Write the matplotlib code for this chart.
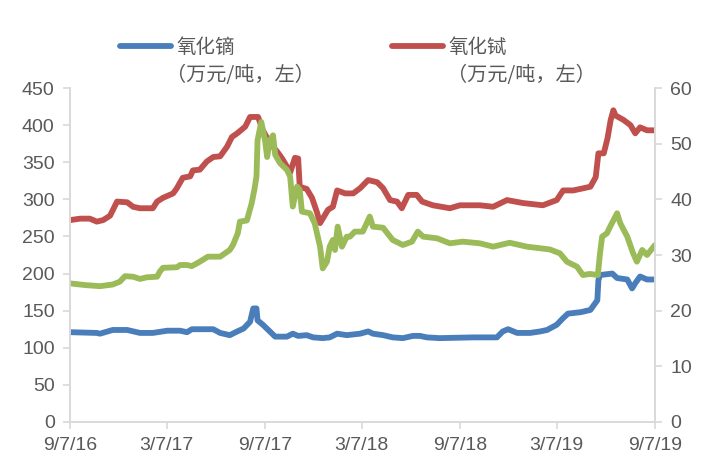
import pandas as pd
import matplotlib
matplotlib.use("Agg")
import matplotlib.pyplot as plt

plt.rcParams['font.family'] = ['Liberation Sans', 'Noto Sans CJK SC', 'DejaVu Sans']

# 氧化镝 price, 万元/吨 (left axis)
dy_dates = ['2016-09-07', '2016-10-27', '2016-11-02', '2016-11-26', '2016-12-23', '2017-01-16',
            '2017-02-09', '2017-03-08', '2017-04-01', '2017-04-14', '2017-04-23', '2017-06-02',
            '2017-06-15', '2017-07-03', '2017-07-17', '2017-07-29', '2017-08-10', '2017-08-16',
            '2017-08-22', '2017-08-24', '2017-09-03', '2017-09-16', '2017-09-26', '2017-10-18',
            '2017-10-29', '2017-11-08', '2017-11-24', '2017-12-06', '2017-12-24', '2018-01-06',
            '2018-01-20', '2018-02-07', '2018-03-04', '2018-03-19', '2018-03-28', '2018-04-16',
            '2018-05-04', '2018-05-23', '2018-06-11', '2018-06-24', '2018-07-07', '2018-07-31',
            '2018-10-01', '2018-11-15', '2018-11-26', '2018-12-06', '2018-12-23', '2019-01-16',
            '2019-02-04', '2019-02-17', '2019-03-07', '2019-03-19', '2019-03-28', '2019-04-21',
            '2019-05-09', '2019-05-22', '2019-05-24', '2019-05-27', '2019-06-19', '2019-06-28',
            '2019-07-17', '2019-07-26', '2019-08-01', '2019-08-10', '2019-08-23', '2019-09-07']
dy_values = [121, 120, 119, 124, 124, 120,
             120, 123, 123, 121, 125, 125,
             120, 117, 122, 126, 135, 153,
             153, 137, 131, 122, 115, 115,
             119, 116, 117, 114, 113, 114,
             119, 117, 119, 122, 119, 117,
             114, 113, 116, 116, 114, 113,
             114, 114, 122, 125, 120, 120,
             122, 124, 131, 140, 146, 148,
             151, 164, 191, 198, 200, 194,
             192, 180, 187, 196, 192, 192]

# 氧化铽 price, 万元/吨 (left axis)
tb_dates = ['2016-09-07', '2016-09-26', '2016-10-14', '2016-10-27', '2016-11-08', '2016-11-21',
            '2016-12-04', '2016-12-23', '2017-01-03', '2017-01-16', '2017-02-09', '2017-02-17',
            '2017-02-28', '2017-03-19', '2017-03-26', '2017-04-06', '2017-04-20', '2017-04-25',
            '2017-05-08', '2017-05-21', '2017-06-02', '2017-06-15', '2017-06-28', '2017-07-07',
            '2017-07-17', '2017-08-01', '2017-08-10', '2017-08-25', '2017-09-03', '2017-09-16',
            '2017-09-30', '2017-10-09', '2017-10-18', '2017-10-24', '2017-11-02', '2017-11-08',
            '2017-11-11', '2017-11-24', '2017-12-04', '2017-12-13', '2017-12-19', '2018-01-03',
            '2018-01-12', '2018-01-20', '2018-02-04', '2018-02-19', '2018-03-04', '2018-03-19',
            '2018-04-05', '2018-04-16', '2018-04-29', '2018-05-12', '2018-05-21', '2018-06-02',
            '2018-06-18', '2018-06-28', '2018-07-18', '2018-08-19', '2018-09-07', '2018-10-14',
            '2018-11-08', '2018-12-04', '2019-01-03', '2019-02-09', '2019-03-07', '2019-03-19',
            '2019-04-07', '2019-05-09', '2019-05-19', '2019-05-24', '2019-06-03', '2019-06-10',
            '2019-06-16', '2019-06-21', '2019-06-25', '2019-07-10', '2019-07-23', '2019-08-01',
            '2019-08-10', '2019-08-23', '2019-09-07']
tb_values = [272, 274, 274, 270, 272, 278,
             297, 296, 290, 288, 288, 297,
             302, 308, 315, 329, 331, 339,
             340, 351, 357, 358, 371, 384,
             389, 398, 411, 411, 393, 376,
             364, 355, 344, 336, 356, 355,
             317, 314, 302, 283, 268, 286,
             290, 312, 308, 308, 315, 326,
             323, 315, 299, 297, 288, 306,
             306, 297, 292, 288, 292, 292,
             290, 299, 295, 292, 299, 312,
             312, 317, 330, 362, 362, 382,
             407, 420, 413, 407, 400, 389,
             397, 393, 393]

# third series, right axis
g_dates = ['2016-09-07', '2016-10-05', '2016-11-02', '2016-11-26', '2016-12-09', '2016-12-19',
           '2017-01-03', '2017-01-16', '2017-01-29', '2017-02-17', '2017-02-22', '2017-02-28',
           '2017-03-26', '2017-04-01', '2017-04-14', '2017-04-23', '2017-05-08', '2017-05-23',
           '2017-06-15', '2017-07-03', '2017-07-09', '2017-07-18', '2017-07-22', '2017-08-04',
           '2017-08-13', '2017-08-18', '2017-08-22', '2017-08-24', '2017-08-31', '2017-09-07',
           '2017-09-11', '2017-09-16', '2017-09-22', '2017-09-26', '2017-10-05', '2017-10-18',
           '2017-10-24', '2017-10-29', '2017-11-06', '2017-11-11', '2017-11-15', '2017-11-30',
           '2017-12-09', '2017-12-19', '2017-12-24', '2018-01-01', '2018-01-06', '2018-01-12',
           '2018-01-16', '2018-01-21', '2018-01-29', '2018-02-07', '2018-02-13', '2018-02-22',
           '2018-03-09', '2018-03-22', '2018-03-28', '2018-04-16', '2018-05-04', '2018-05-23',
           '2018-06-09', '2018-06-20', '2018-06-30', '2018-07-26', '2018-08-19', '2018-09-12',
           '2018-10-14', '2018-11-08', '2018-12-09', '2019-01-10', '2019-02-22', '2019-03-13',
           '2019-03-26', '2019-04-14', '2019-04-25', '2019-05-08', '2019-05-23', '2019-05-27',
           '2019-05-31', '2019-06-09', '2019-06-15', '2019-06-28', '2019-07-04', '2019-07-17',
           '2019-07-28', '2019-08-04', '2019-08-14', '2019-08-23', '2019-09-07']
g_values = [24.9, 24.6, 24.4, 24.7, 25.2, 26.2,
            26.1, 25.7, 26.0, 26.1, 27.0, 27.7,
            27.8, 28.2, 28.2, 28.0, 28.8, 29.7,
            29.7, 30.9, 31.8, 33.9, 36.0, 36.2,
            39.3, 41.7, 44.1, 50.6, 53.9, 50.6,
            47.6, 50.6, 51.5, 48.0, 46.5, 45.3,
            44.1, 38.7, 42.3, 41.7, 37.8, 37.5,
            35.7, 31.5, 27.6, 28.8, 31.5, 32.7,
            30.9, 35.1, 31.5, 33.3, 33.3, 34.2,
            34.2, 36.9, 35.1, 34.9, 32.7, 31.8,
            32.4, 34.2, 33.3, 33.0, 32.1, 32.4,
            32.1, 31.5, 32.2, 31.5, 31.0, 30.3,
            28.8, 27.9, 26.4, 26.6, 26.4, 30.3,
            33.3, 33.9, 35.1, 37.5, 35.7, 33.3,
            30.3, 28.8, 30.9, 30.0, 31.8]

tick_dates = ['2016-09-07', '2017-03-07', '2017-09-07', '2018-03-07',
              '2018-09-07', '2019-03-07', '2019-09-07']
tick_labels = ['9/7/16', '3/7/17', '9/7/17', '3/7/18', '9/7/18', '3/7/19', '9/7/19']
names = ['氧化镝', '氧化铽']
unit_text = '（万元/吨，左）'

BLUE = '#4a7ebb'
RED = '#c0504d'
GREEN = '#9bbb59'
GRAY = '#595959'
AXIS = '#d9d9d9'

fig = plt.figure(figsize=(7.13, 4.75), dpi=100)
ax = fig.add_axes([0.0982, 0.1116, 0.8205, 0.7031])
ax2 = ax.twinx()

lw = 4.2
l_dy, = ax.plot(pd.to_datetime(dy_dates), dy_values, color=BLUE, lw=lw, solid_capstyle='round')
l_tb, = ax.plot(pd.to_datetime(tb_dates), tb_values, color=RED, lw=lw, solid_capstyle='round')
ax2.plot(pd.to_datetime(g_dates), g_values, color=GREEN, lw=lw, solid_capstyle='round')

ax.set_xlim(pd.Timestamp(tick_dates[0]), pd.Timestamp(tick_dates[-1]))
ax.set_ylim(0, 450)
ax2.set_ylim(0, 60)
ax.set_yticks(range(0, 451, 50))
ax2.set_yticks(range(0, 61, 10))
ax.set_xticks(pd.to_datetime(tick_dates))
ax.set_xticklabels(tick_labels)

for a in (ax, ax2):
    a.spines['top'].set_visible(False)
    for side in ('left', 'right', 'bottom'):
        a.spines[side].set_color(AXIS)
        a.spines[side].set_linewidth(1.2)
    a.tick_params(colors=AXIS, labelcolor=GRAY, labelsize=14, length=5, width=1.2, pad=6)

leg = fig.legend([l_dy, l_tb], names, ncol=2, loc='upper left',
                 bbox_to_anchor=(120 / 713, 1 - 37 / 475), frameon=False,
                 prop={'family': ['Noto Sans CJK SC'], 'size': 14},
                 handlelength=2.6, handletextpad=0.3, columnspacing=8.1,
                 borderpad=0, borderaxespad=0, labelcolor=GRAY)
for x in (166 / 713, 447 / 713):
    fig.text(x, 1 - 76 / 475, unit_text, ha='left', va='center', color=GRAY,
             fontsize=14.5, family=['Noto Sans CJK SC'])

fig.savefig('out.png', dpi=100)
